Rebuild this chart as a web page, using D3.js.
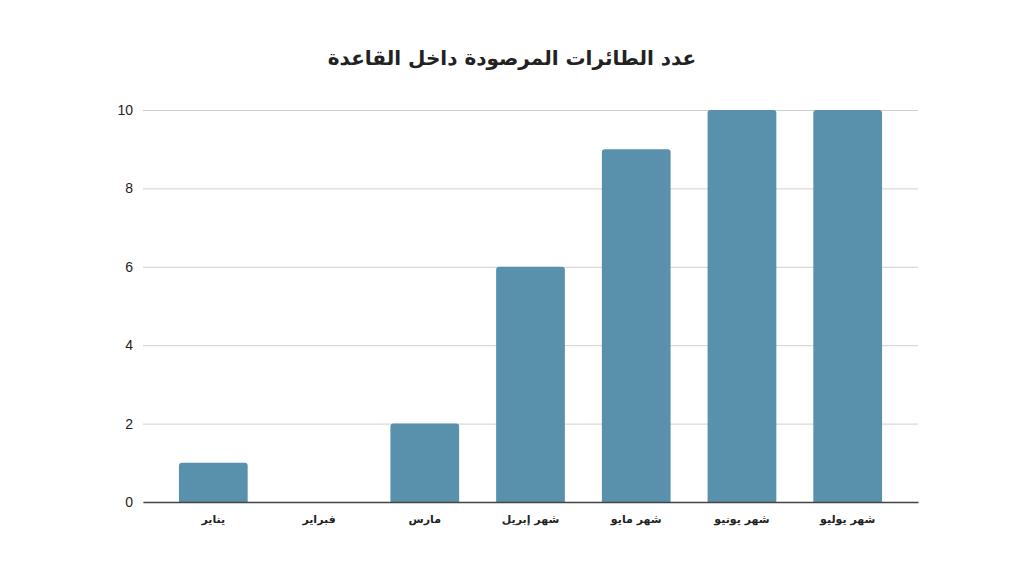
<!DOCTYPE html>
<html>
<head>
<meta charset="utf-8">
<script src="https://cdn.jsdelivr.net/npm/d3@7"></script>
<style>
  body { margin: 0; background: #fff; }
  svg { display: block; }
</style>
</head>
<body>
<div id="chart"></div>
<script>
// chart data
var title = "عدد الطائرات المرصودة داخل القاعدة";
var months = ["يناير", "فبراير", "مارس", "شهر إبريل", "شهر مايو", "شهر يونيو", "شهر يوليو"];
var counts = [1, 0, 2, 6, 9, 10, 10];
var yTicks = [0, 2, 4, 6, 8, 10];

var W = 1024, H = 576;
var margin = {top: 110, right: 106, bottom: 74, left: 143},
    width = W - margin.left - margin.right,
    height = H - margin.top - margin.bottom;

var svg = d3.select("#chart")
  .append("svg")
    .attr("width", W)
    .attr("height", H);

// title
svg.append("text")
  .attr("x", W / 2)
  .attr("y", 65)
  .attr("text-anchor", "middle")
  .attr("direction", "rtl")
  .attr("font-family", "'DejaVu Sans', sans-serif")
  .attr("font-weight", "bold")
  .attr("font-size", 20)
  .attr("fill", "#222")
  .text(title);

var g = svg.append("g")
  .attr("transform", "translate(" + margin.left + "," + margin.top + ")");

var x = d3.scaleBand()
  .domain(months)
  .range([0, width])
  .paddingInner(0.35)
  .paddingOuter(0.34);

var y = d3.scaleLinear()
  .domain([0, 10])
  .range([height, 0]);

// grid lines + y labels
var yAxis = g.append("g")
  .call(d3.axisLeft(y).tickValues(yTicks).tickSize(-width).tickPadding(10));
yAxis.select(".domain").remove();
yAxis.selectAll(".tick line")
  .attr("stroke", "#cfcfcf")
  .attr("stroke-width", 1);
yAxis.selectAll(".tick text")
  .attr("font-family", "'Liberation Sans', Arial, sans-serif")
  .attr("font-size", 14)
  .attr("fill", "#222");

// bars, top corners rounded
var r = 3;
function barPath(d, i) {
  var x0 = x(months[i]), bw = x.bandwidth(), y0 = y(d), yb = y(0);
  var p = d3.path();
  p.moveTo(x0, yb);
  p.lineTo(x0, y0 + r);
  p.arcTo(x0, y0, x0 + r, y0, r);
  p.lineTo(x0 + bw - r, y0);
  p.arcTo(x0 + bw, y0, x0 + bw, y0 + r, r);
  p.lineTo(x0 + bw, yb);
  p.closePath();
  return p.toString();
}

g.selectAll(".bar")
  .data(counts)
  .enter()
  .append("path")
    .attr("class", "bar")
    .attr("fill", "#5990ab")
    .attr("display", function(d) { return d > 0 ? null : "none"; })
    .attr("d", barPath);

// x axis
var xAxis = g.append("g")
  .attr("transform", "translate(0," + height + ")")
  .call(d3.axisBottom(x).tickSize(0).tickPadding(13).tickSizeOuter(0));
xAxis.select(".domain")
  .attr("stroke", "#444")
  .attr("stroke-width", 1.5);
xAxis.selectAll(".tick text")
  .attr("font-family", "'DejaVu Sans', sans-serif")
  .attr("font-weight", "bold")
  .attr("font-size", 11)
  .attr("direction", "rtl")
  .attr("fill", "#222");
</script>
</body>
</html>
